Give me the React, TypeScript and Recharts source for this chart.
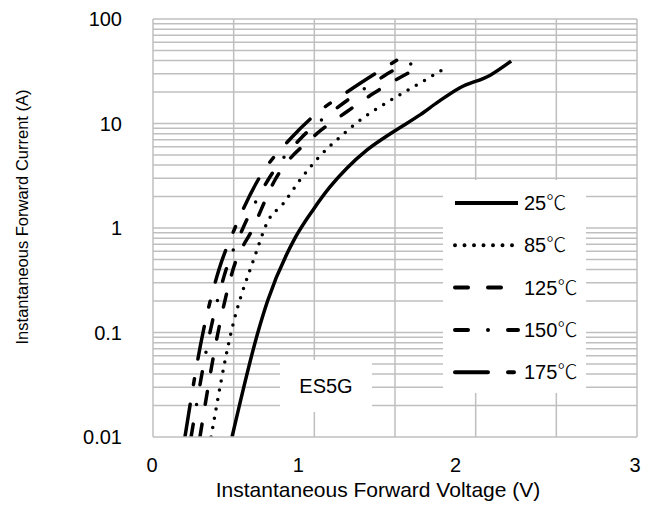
import React from 'react';
import { LineChart, Line, XAxis, YAxis, ReferenceLine, Legend } from 'recharts';

// Forward voltage (V) / forward current (A)
const vf25 = [0.49, 0.65, 0.71, 0.88, 0.992, 1.097, 1.203, 1.327, 1.488, 1.655, 1.767, 1.9, 2.09, 2.22];
const if25 = [0.01, 0.1, 0.2, 0.8, 1.49, 2.47, 3.75, 5.58, 8.3, 12.1, 16.1, 21.9, 29, 39.6];

const vf85 = [0.36, 0.484, 0.63, 0.713, 0.806, 0.911, 1.029, 1.166, 1.302, 1.457, 1.73, 1.835];
const if85 = [0.01, 0.1, 0.53, 1.17, 1.7, 2.88, 4.78, 7.59, 11.3, 16.1, 28.5, 35.5];

const vf125 = [0.291, 0.403, 0.496, 0.62, 0.756, 0.992, 1.19, 1.37, 1.593];
const if125 = [0.01, 0.1, 0.4, 1, 2.88, 7.43, 12.6, 19.6, 31.1];

const vf150 = [0.236, 0.353, 0.453, 0.558, 0.713, 0.924, 1.091, 1.364, 1.55, 1.699];
const if150 = [0.01, 0.1, 0.4, 1, 2.88, 7.43, 12.3, 24.4, 35.5, 38.8];

const vf175 = [0.198, 0.31, 0.409, 0.508, 0.651, 0.862, 1.017, 1.203, 1.513];
const if175 = [0.01, 0.1, 0.4, 1, 2.88, 7.43, 12.6, 20, 40.5];

const seriesNames = ['25', '85', '125', '150', '175'];
const xTicks = [0, 1, 2, 3];
const yTicks = [0.01, 0.1, 1, 10, 100];
const xGrid = [0.5, 1, 1.5, 2, 2.5, 3];
const decades = [0.01, 0.1, 1, 10];
const mantissas = [1, 2, 3, 4, 5, 6, 7, 8, 9];
const yGrid = [...decades.flatMap((d) => mantissas.map((m) => +(d * m).toPrecision(3))), 100].filter((v) => v > 0.01);

const rows = (vs: number[], is: number[]) => vs.map((v, k) => ({ v, i: is[k] }));

const FONT = '"Liberation Sans", Arial, sans-serif';
const CJK = '"Noto Sans CJK SC", "Noto Sans CJK JP", sans-serif';
const GRID = '#bfbfbf';
const SW = 3.5;

const styles = [
  { dash: undefined, cap: 'butt' },
  { dash: '0 9.5', cap: 'round' },
  { dash: '13 20', cap: 'round' },
  { dash: '13 20 0 20', cap: 'round' },
  { dash: '33 20 6 20', cap: 'round' },
];

const seriesData = [
  rows(vf25, if25),
  rows(vf85, if85),
  rows(vf125, if125),
  rows(vf150, if150),
  rows(vf175, if175),
];

const xTickShift: Record<number, number> = { 0: -1, 1: -16, 2: -20, 3: -2 };

const XTick = (props: any) => {
  const { x, y, payload } = props;
  return (
    <text x={x + (xTickShift[payload.value] ?? 0)} y={y} dy="0.71em" textAnchor="middle" fontSize={20} fontFamily={FONT} fill="#000">
      {payload.value}
    </text>
  );
};

const YTick = (props: any) => {
  const { x, y, payload } = props;
  return (
    <text x={x} y={y} dy="0.35em" textAnchor="end" fontSize={20} fontFamily={FONT} fill="#000">
      {String(payload.value)}
    </text>
  );
};

const LegendBox = () => (
  <svg width={143} height={213} style={{ display: 'block' }}>
    <rect x={0} y={0} width={143} height={213} fill="#fff" />
    {seriesNames.map((n, k) => {
      const cy = 23 + k * 42.3;
      return (
        <g key={n}>
          <line
            x1={12}
            x2={75}
            y1={cy}
            y2={cy}
            stroke="#000"
            strokeWidth={SW + 0.5}
            strokeDasharray={styles[k].dash}
            strokeLinecap={styles[k].cap as any}
          />
          <text x={81} y={cy} dy="0.35em" fontSize={20} fontFamily={FONT} fill="#000">
            {n}
            <tspan fontFamily={CJK} fontWeight={300}>℃</tspan>
          </text>
        </g>
      );
    })}
  </svg>
);

export default function App() {
  return (
    <div style={{ position: 'relative', width: 646, height: 493 }}>
      <LineChart width={646} height={493} margin={{ top: 11, right: 17, bottom: 4, left: 0 }}>
        <XAxis
          type="number"
          dataKey="v"
          domain={[0, 3]}
          ticks={xTicks}
          allowDataOverflow
          height={60}
          tickLine={false}
          tickSize={0}
          tickMargin={21}
          tick={<XTick />}
          axisLine={{ stroke: GRID, strokeWidth: 1.5 }}
        />
        <YAxis
          type="number"
          dataKey="i"
          scale="log"
          domain={[0.01, 100]}
          ticks={yTicks}
          allowDataOverflow
          width={145}
          tickLine={false}
          tickSize={0}
          tickMargin={31}
          tick={<YTick />}
          axisLine={{ stroke: GRID, strokeWidth: 1.5 }}
        />
        {yGrid.map((g) => (
          <ReferenceLine key={'h' + g} y={g} stroke={GRID} strokeWidth={1.5} />
        ))}
        {xGrid.map((g) => (
          <ReferenceLine key={'v' + g} x={g} stroke={GRID} strokeWidth={1.5} />
        ))}
        {seriesData.map((d, k) => (
          <Line
            key={seriesNames[k]}
            data={d}
            dataKey="i"
            name={seriesNames[k] + '℃'}
            type="monotone"
            stroke="#000"
            strokeWidth={SW}
            strokeDasharray={styles[k].dash}
            strokeLinecap={styles[k].cap as any}
            dot={false}
            activeDot={false}
            isAnimationActive={false}
          />
        ))}
        <Legend
          layout="vertical"
          align="center"
          verticalAlign="middle"
          wrapperStyle={{ left: 435, top: 172, width: 143, height: 213 }}
          content={() => <LegendBox />}
        />
      </LineChart>
      <svg width={646} height={493} style={{ position: 'absolute', left: 0, top: 0, pointerEvents: 'none' }}>
        <text
          x={14}
          y={209}
          transform="rotate(-90 14 209)"
          textAnchor="middle"
          dominantBaseline="central"
          fontSize={16.5}
          fontFamily={FONT}
          fill="#000"
        >
          Instantaneous Forward Current (A)
        </text>
        <text x={370} y={481} textAnchor="middle" dominantBaseline="central" fontSize={21} fontFamily={FONT} fill="#000">
          Instantaneous Forward Voltage (V)
        </text>
        <rect x={272} y={352} width={92} height={52} fill="#fff" />
        <text x={318} y={378} textAnchor="middle" dominantBaseline="central" fontSize={20} fontFamily={FONT} fill="#000">
          ES5G
        </text>
      </svg>
    </div>
  );
}
